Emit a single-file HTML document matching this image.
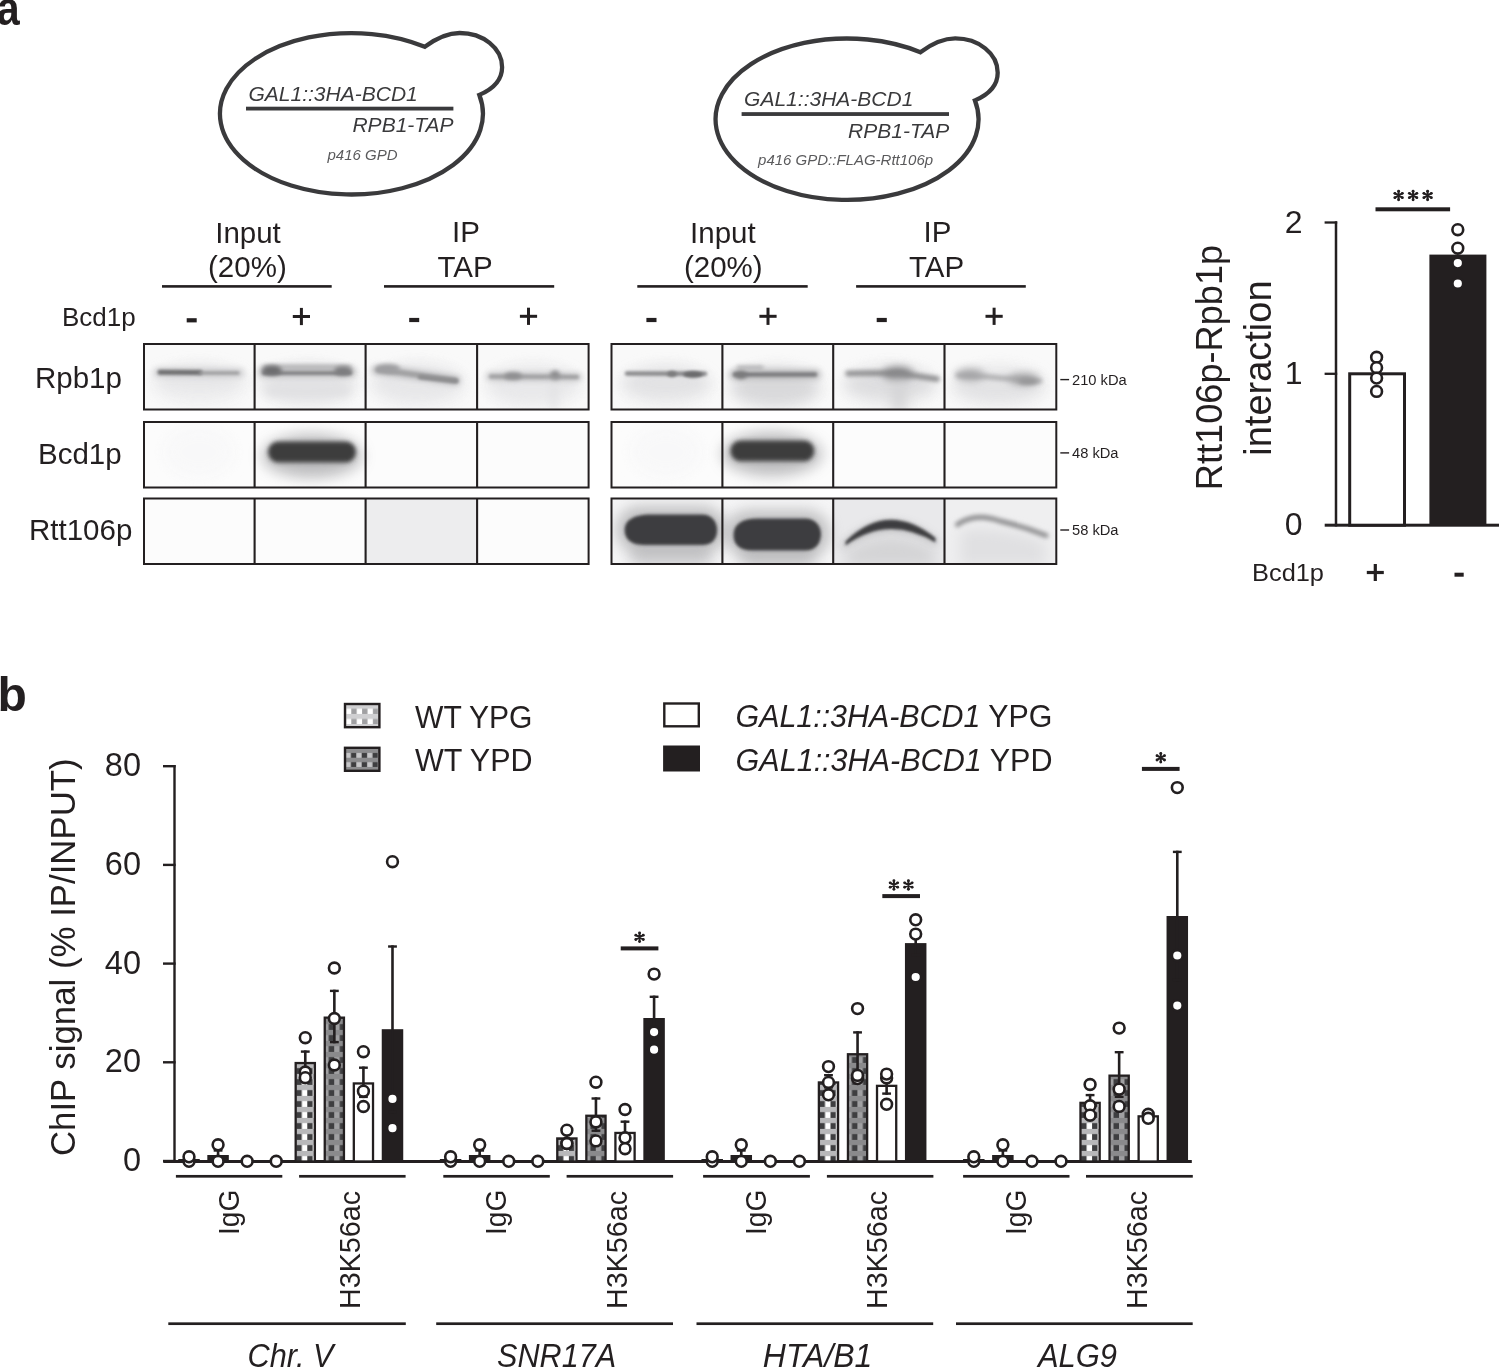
<!DOCTYPE html><html><head><meta charset="utf-8"><style>html,body{margin:0;padding:0;background:#fff;}svg{display:block;will-change:transform;} text{font-family:"Liberation Sans", sans-serif;}</style></head><body>
<svg width="1499" height="1372" viewBox="0 0 1499 1372">
<rect width="1499" height="1372" fill="#fff"/>
<text transform="translate(-3.3,24.6) scale(0.86,1)" x="0" y="0" font-size="48" font-weight="bold" fill="#231f20">a</text>
<g transform="translate(0,0)">
<path d="M 479.3 94.9 A 131.5 80.7 0 1 1 424.8 46.8 C 436 38.5 447 33 459.6 33 C 483 33 502.1 48 502.1 67.2 C 502.1 80 493 89 479.3 94.9 Z" fill="none" stroke="#3a3a3c" stroke-width="4.3" stroke-linejoin="miter"/>
<rect x="246" y="106.7" width="207.4" height="3.8" fill="#3a3a3c"/>
<text x="248.5" y="100.8" font-size="21" font-style="italic" fill="#3a3a3c">GAL1::3HA-BCD1</text>
<text x="453.6" y="132.2" font-size="21" font-style="italic" fill="#3a3a3c" text-anchor="end">RPB1-TAP</text>
<text x="362.5" y="159.8" font-size="15" font-style="italic" fill="#5a5a5c" text-anchor="middle">p416 GPD</text>
</g>
<g transform="translate(495.6,5.45)">
<path d="M 479.3 94.9 A 131.5 80.7 0 1 1 424.8 46.8 C 436 38.5 447 33 459.6 33 C 483 33 502.1 48 502.1 67.2 C 502.1 80 493 89 479.3 94.9 Z" fill="none" stroke="#3a3a3c" stroke-width="4.3" stroke-linejoin="miter"/>
<rect x="246" y="106.7" width="207.4" height="3.8" fill="#3a3a3c"/>
<text x="248.5" y="100.8" font-size="21" font-style="italic" fill="#3a3a3c">GAL1::3HA-BCD1</text>
<text x="453.6" y="132.2" font-size="21" font-style="italic" fill="#3a3a3c" text-anchor="end">RPB1-TAP</text>
<text x="350" y="159.8" font-size="15" font-style="italic" fill="#5a5a5c" text-anchor="middle">p416 GPD::FLAG-Rtt106p</text>
</g>
<text x="248.0" y="242.7" font-size="29.5" text-anchor="middle" font-weight="normal" font-style="normal" fill="#231f20" >Input</text>
<text x="247.4" y="277.4" font-size="29.5" text-anchor="middle" font-weight="normal" font-style="normal" fill="#231f20" >(20%)</text>
<rect x="162.00" y="285.10" width="169.70" height="2.60" fill="#231f20" />
<text x="466.0" y="242.3" font-size="29.5" text-anchor="middle" font-weight="normal" font-style="normal" fill="#231f20" >IP</text>
<text x="465.0" y="276.9" font-size="29.5" text-anchor="middle" font-weight="normal" font-style="normal" fill="#231f20" >TAP</text>
<rect x="384.00" y="285.10" width="170.20" height="2.60" fill="#231f20" />
<text x="722.9" y="242.8" font-size="29.5" text-anchor="middle" font-weight="normal" font-style="normal" fill="#231f20" >Input</text>
<text x="723.3" y="277.4" font-size="29.5" text-anchor="middle" font-weight="normal" font-style="normal" fill="#231f20" >(20%)</text>
<rect x="637.30" y="285.10" width="170.40" height="2.60" fill="#231f20" />
<text x="937.5" y="242.3" font-size="29.5" text-anchor="middle" font-weight="normal" font-style="normal" fill="#231f20" >IP</text>
<text x="936.5" y="276.9" font-size="29.5" text-anchor="middle" font-weight="normal" font-style="normal" fill="#231f20" >TAP</text>
<rect x="856.10" y="285.10" width="169.70" height="2.60" fill="#231f20" />
<text x="62.0" y="326.3" font-size="26" text-anchor="start" font-weight="normal" font-style="normal" fill="#231f20" >Bcd1p</text>
<rect x="186.70" y="318.20" width="10.00" height="4.20" fill="#231f20" />
<rect x="292.80" y="315.00" width="17.20" height="3.00" fill="#231f20" />
<rect x="299.90" y="307.90" width="3.00" height="17.20" fill="#231f20" />
<rect x="409.20" y="317.90" width="10.00" height="4.20" fill="#231f20" />
<rect x="519.90" y="314.80" width="17.20" height="3.00" fill="#231f20" />
<rect x="527.00" y="307.70" width="3.00" height="17.20" fill="#231f20" />
<rect x="646.40" y="317.90" width="10.10" height="4.20" fill="#231f20" />
<rect x="759.40" y="314.80" width="17.20" height="3.00" fill="#231f20" />
<rect x="766.50" y="307.70" width="3.00" height="17.20" fill="#231f20" />
<rect x="876.70" y="317.90" width="10.10" height="4.20" fill="#231f20" />
<rect x="985.50" y="314.80" width="17.20" height="3.00" fill="#231f20" />
<rect x="992.60" y="307.70" width="3.00" height="17.20" fill="#231f20" />
<text x="35.0" y="388.3" font-size="29.5" text-anchor="start" font-weight="normal" font-style="normal" fill="#231f20" >Rpb1p</text>
<text x="38.0" y="464.3" font-size="29.5" text-anchor="start" font-weight="normal" font-style="normal" fill="#231f20" >Bcd1p</text>
<text x="29.0" y="540.3" font-size="29.5" text-anchor="start" font-weight="normal" font-style="normal" fill="#231f20" >Rtt106p</text>
<rect x="1060.30" y="378.90" width="8.80" height="1.40" fill="#231f20" />
<text x="1072.0" y="384.8" font-size="14.7" text-anchor="start" font-weight="normal" font-style="normal" fill="#231f20" >210 kDa</text>
<rect x="1060.30" y="452.20" width="8.80" height="1.40" fill="#231f20" />
<text x="1072.0" y="458.1" font-size="14.7" text-anchor="start" font-weight="normal" font-style="normal" fill="#231f20" >48 kDa</text>
<rect x="1060.30" y="529.30" width="8.80" height="1.40" fill="#231f20" />
<text x="1072.0" y="535.2" font-size="14.7" text-anchor="start" font-weight="normal" font-style="normal" fill="#231f20" >58 kDa</text>
<defs><filter id="b1" filterUnits="userSpaceOnUse" x="0" y="0" width="1499" height="1372"><feGaussianBlur stdDeviation="2.2"/></filter><filter id="b2" filterUnits="userSpaceOnUse" x="0" y="0" width="1499" height="1372"><feGaussianBlur stdDeviation="4"/></filter><filter id="b3" filterUnits="userSpaceOnUse" x="0" y="0" width="1499" height="1372"><feGaussianBlur stdDeviation="7"/></filter><filter id="b15" filterUnits="userSpaceOnUse" x="0" y="0" width="1499" height="1372"><feGaussianBlur stdDeviation="3"/></filter><filter id="b1s" filterUnits="userSpaceOnUse" x="0" y="0" width="1499" height="1372"><feGaussianBlur stdDeviation="1.4"/></filter></defs>
<clipPath id="c00"><rect x="144" y="344" width="444.6" height="65.5"/></clipPath>
<g clip-path="url(#c00)">
<rect x="144.00" y="344.00" width="444.60" height="65.50" fill="#f9f9f9" />
<ellipse cx="199.3" cy="386" rx="44" ry="22" fill="#eeeeef" filter="url(#b3)" opacity="0.6"/>
<ellipse cx="310.1" cy="386" rx="44" ry="22" fill="#eeeeef" filter="url(#b3)" opacity="0.6"/>
<ellipse cx="421.35" cy="386" rx="44" ry="22" fill="#eeeeef" filter="url(#b3)" opacity="0.6"/>
<ellipse cx="532.85" cy="386" rx="44" ry="22" fill="#eeeeef" filter="url(#b3)" opacity="0.6"/>
<ellipse cx="199" cy="380" rx="46" ry="14" fill="#e2e2e4" filter="url(#b3)" opacity="0.7"/>
<path d="M 158 372.5 L 200 372.8 L 240 373" stroke="#cacacc" stroke-width="8" fill="none" stroke-linecap="round" stroke-linejoin="round" opacity="1.0" filter="url(#b15)"/>
<path d="M 160 372.3 L 200 372.6" stroke="#6e6e70" stroke-width="5.0" fill="none" stroke-linecap="round" stroke-linejoin="round" opacity="1.0" filter="url(#b1s)"/>
<path d="M 200 373 L 238 373" stroke="#969698" stroke-width="3.0" fill="none" stroke-linecap="round" stroke-linejoin="round" opacity="1.0" filter="url(#b1s)"/>
<ellipse cx="307" cy="384" rx="48" ry="18" fill="#e0e0e2" filter="url(#b3)" opacity="0.8"/>
<path d="M 263 372 L 351 372" stroke="#c4c4c6" stroke-width="11" fill="none" stroke-linecap="round" stroke-linejoin="round" opacity="1.0" filter="url(#b15)"/>
<path d="M 264 373 L 350 373" stroke="#828284" stroke-width="4.0" fill="none" stroke-linecap="round" stroke-linejoin="round" opacity="1.0" filter="url(#b1s)"/>
<path d="M 264 367 L 350 367" stroke="#a4a4a6" stroke-width="3.0" fill="none" stroke-linecap="round" stroke-linejoin="round" opacity="1.0" filter="url(#b1)"/>
<path d="M 270 391 L 346 391" stroke="#e0e0e2" stroke-width="9" fill="none" stroke-linecap="round" stroke-linejoin="round" opacity="1.0" filter="url(#b2)"/>
<ellipse cx="272" cy="370.5" rx="10" ry="5" fill="#6c6c6e" filter="url(#b1)" opacity="1.0"/>
<ellipse cx="343" cy="371" rx="9" ry="4.5" fill="#7c7c7e" filter="url(#b1)" opacity="1.0"/>
<ellipse cx="416" cy="383" rx="46" ry="18" fill="#e2e2e4" filter="url(#b3)" opacity="0.7"/>
<path d="M 376 370 L 400 372.5 L 456 380.5" stroke="#b0b0b2" stroke-width="8" fill="none" stroke-linecap="round" stroke-linejoin="round" opacity="1.0" filter="url(#b15)"/>
<path d="M 378 370 L 400 372.5 L 456 380.5" stroke="#a0a0a2" stroke-width="4.5" fill="none" stroke-linecap="round" stroke-linejoin="round" opacity="1.0" filter="url(#b1s)"/>
<path d="M 420 377 L 456 381" stroke="#8c8c8e" stroke-width="4.5" fill="none" stroke-linecap="round" stroke-linejoin="round" opacity="1.0" filter="url(#b1s)"/>
<ellipse cx="388" cy="368.5" rx="12" ry="4.5" fill="#9e9ea0" filter="url(#b1)" opacity="1.0"/>
<ellipse cx="533" cy="385" rx="46" ry="18" fill="#e4e4e6" filter="url(#b3)" opacity="0.7"/>
<path d="M 490 376.5 L 578 377" stroke="#bebec0" stroke-width="7" fill="none" stroke-linecap="round" stroke-linejoin="round" opacity="1.0" filter="url(#b15)"/>
<path d="M 491 376.5 L 577 377" stroke="#a0a0a2" stroke-width="4" fill="none" stroke-linecap="round" stroke-linejoin="round" opacity="1.0" filter="url(#b1s)"/>
<ellipse cx="513" cy="376" rx="9" ry="3.8" fill="#8e8e90" filter="url(#b1)" opacity="1.0"/>
<ellipse cx="555" cy="375.5" rx="5" ry="5" fill="#8a8a8c" filter="url(#b1)" opacity="1.0"/>
<path d="M 554 382 L 554 408" stroke="#e0e0e2" stroke-width="5" fill="none" stroke-linecap="round" stroke-linejoin="round" opacity="1.0" filter="url(#b2)"/>
</g>
<rect x="144" y="344" width="444.6" height="65.5" fill="none" stroke="#231f20" stroke-width="2"/>
<rect x="253.55" y="344.00" width="2.10" height="65.50" fill="#231f20" />
<rect x="364.55" y="344.00" width="2.10" height="65.50" fill="#231f20" />
<rect x="476.05" y="344.00" width="2.10" height="65.50" fill="#231f20" />
<clipPath id="c01"><rect x="144" y="422" width="444.6" height="65.5"/></clipPath>
<g clip-path="url(#c01)">
<rect x="144.00" y="422.00" width="444.60" height="65.50" fill="#fcfcfc" />
<ellipse cx="199" cy="452" rx="36" ry="26" fill="#f6f6f7" filter="url(#b3)" opacity="0.6"/>
<ellipse cx="312" cy="456" rx="50" ry="22" fill="#a8a8aa" filter="url(#b3)" opacity="0.75"/>
<rect x="268" y="441.5" width="88" height="21.0" rx="10.5" fill="#3c3c3e" opacity="1.0" filter="url(#b1)"/>
</g>
<rect x="144" y="422" width="444.6" height="65.5" fill="none" stroke="#231f20" stroke-width="2"/>
<rect x="253.55" y="422.00" width="2.10" height="65.50" fill="#231f20" />
<rect x="364.55" y="422.00" width="2.10" height="65.50" fill="#231f20" />
<rect x="476.05" y="422.00" width="2.10" height="65.50" fill="#231f20" />
<clipPath id="c02"><rect x="144" y="498.5" width="444.6" height="65.5"/></clipPath>
<g clip-path="url(#c02)">
<rect x="144.00" y="498.50" width="444.60" height="65.50" fill="#fcfcfc" />
<rect x="365.60" y="498.50" width="111.50" height="65.50" fill="#ededee" />
</g>
<rect x="144" y="498.5" width="444.6" height="65.5" fill="none" stroke="#231f20" stroke-width="2"/>
<rect x="253.55" y="498.50" width="2.10" height="65.50" fill="#231f20" />
<rect x="364.55" y="498.50" width="2.10" height="65.50" fill="#231f20" />
<rect x="476.05" y="498.50" width="2.10" height="65.50" fill="#231f20" />
<clipPath id="c10"><rect x="611.5" y="344" width="444.79999999999995" height="65.5"/></clipPath>
<g clip-path="url(#c10)">
<rect x="611.50" y="344.00" width="444.80" height="65.50" fill="#f9f9f9" />
<ellipse cx="666.95" cy="386" rx="44" ry="22" fill="#eeeeef" filter="url(#b3)" opacity="0.6"/>
<ellipse cx="777.8" cy="386" rx="44" ry="22" fill="#eeeeef" filter="url(#b3)" opacity="0.6"/>
<ellipse cx="888.85" cy="386" rx="44" ry="22" fill="#eeeeef" filter="url(#b3)" opacity="0.6"/>
<ellipse cx="1000.4" cy="386" rx="44" ry="22" fill="#eeeeef" filter="url(#b3)" opacity="0.6"/>
<ellipse cx="666" cy="383" rx="44" ry="16" fill="#dedee0" filter="url(#b3)" opacity="0.8"/>
<path d="M 627 373.5 L 705 373.8" stroke="#8a8a8c" stroke-width="4.5" fill="none" stroke-linecap="round" stroke-linejoin="round" opacity="1.0" filter="url(#b1s)"/>
<ellipse cx="693" cy="374.5" rx="10" ry="3.2" fill="#6a6a6c" filter="url(#b1s)" opacity="1.0"/>
<ellipse cx="672" cy="374" rx="5" ry="3" fill="#7a7a7c" filter="url(#b1s)" opacity="1.0"/>
<ellipse cx="775" cy="388" rx="44" ry="18" fill="#d6d6d8" filter="url(#b3)" opacity="0.9"/>
<path d="M 734 374.5 L 816 374.5" stroke="#bcbcbe" stroke-width="10" fill="none" stroke-linecap="round" stroke-linejoin="round" opacity="1.0" filter="url(#b15)"/>
<path d="M 735 374.5 L 815 374.5" stroke="#7c7c7e" stroke-width="4.5" fill="none" stroke-linecap="round" stroke-linejoin="round" opacity="1.0" filter="url(#b1s)"/>
<path d="M 738 367.5 L 762 367.5" stroke="#a8a8aa" stroke-width="3.5" fill="none" stroke-linecap="round" stroke-linejoin="round" opacity="1.0" filter="url(#b1)"/>
<ellipse cx="741" cy="375" rx="6" ry="4" fill="#7a7a7c" filter="url(#b1)" opacity="1.0"/>
<ellipse cx="890" cy="384" rx="46" ry="16" fill="#d8d8da" filter="url(#b3)" opacity="0.8"/>
<path d="M 848 373.5 L 875 373 L 900 373.5 L 937 379" stroke="#8e8e90" stroke-width="5.5" fill="none" stroke-linecap="round" stroke-linejoin="round" opacity="1.0" filter="url(#b1)"/>
<ellipse cx="898" cy="373.5" rx="15" ry="6.5" fill="#808082" filter="url(#b2)" opacity="1.0"/>
<path d="M 899 386 L 899 410" stroke="#d0d0d2" stroke-width="12" fill="none" stroke-linecap="round" stroke-linejoin="round" opacity="1.0" filter="url(#b3)"/>
<ellipse cx="998" cy="386" rx="46" ry="16" fill="#dedee0" filter="url(#b3)" opacity="0.8"/>
<path d="M 958 375.5 L 985 376.5 L 1000 378 L 1040 381" stroke="#aaaaac" stroke-width="4.5" fill="none" stroke-linecap="round" stroke-linejoin="round" opacity="1.0" filter="url(#b1)"/>
<ellipse cx="970" cy="374.5" rx="14" ry="5.5" fill="#a2a2a4" filter="url(#b2)" opacity="1.0"/>
<ellipse cx="1024" cy="379" rx="15" ry="5.5" fill="#a0a0a2" filter="url(#b2)" opacity="1.0"/>
<ellipse cx="1028" cy="381.5" rx="10" ry="3" fill="#959597" filter="url(#b1)" opacity="1.0"/>
</g>
<rect x="611.5" y="344" width="444.8" height="65.5" fill="none" stroke="#231f20" stroke-width="2"/>
<rect x="721.35" y="344.00" width="2.10" height="65.50" fill="#231f20" />
<rect x="832.15" y="344.00" width="2.10" height="65.50" fill="#231f20" />
<rect x="943.45" y="344.00" width="2.10" height="65.50" fill="#231f20" />
<clipPath id="c11"><rect x="611.5" y="422" width="444.79999999999995" height="65.5"/></clipPath>
<g clip-path="url(#c11)">
<rect x="611.50" y="422.00" width="444.80" height="65.50" fill="#fcfcfc" />
<ellipse cx="666" cy="452" rx="36" ry="26" fill="#f6f6f7" filter="url(#b3)" opacity="0.6"/>
<ellipse cx="772" cy="454" rx="50" ry="22" fill="#a8a8aa" filter="url(#b3)" opacity="0.75"/>
<rect x="730.4" y="440.6" width="83.89999999999998" height="20.599999999999966" rx="10.299999999999983" fill="#3c3c3e" opacity="1.0" filter="url(#b1)"/>
</g>
<rect x="611.5" y="422" width="444.8" height="65.5" fill="none" stroke="#231f20" stroke-width="2"/>
<rect x="721.35" y="422.00" width="2.10" height="65.50" fill="#231f20" />
<rect x="832.15" y="422.00" width="2.10" height="65.50" fill="#231f20" />
<rect x="943.45" y="422.00" width="2.10" height="65.50" fill="#231f20" />
<clipPath id="c12"><rect x="611.5" y="498.5" width="444.79999999999995" height="65.5"/></clipPath>
<g clip-path="url(#c12)">
<rect x="611.50" y="498.50" width="444.80" height="65.50" fill="#fcfcfc" />
<rect x="611.50" y="498.50" width="221.70" height="65.50" fill="#f5f5f6" />
<rect x="833.20" y="498.50" width="111.30" height="65.50" fill="#e9e9eb" />
<rect x="944.50" y="498.50" width="111.80" height="65.50" fill="#efeff0" />
<path d="M 640 556 L 702 556" stroke="#cfcfd1" stroke-width="22" fill="none" stroke-linecap="round" stroke-linejoin="round" opacity="1.0" filter="url(#b3)"/>
<path d="M 750 558 L 806 558" stroke="#cfcfd1" stroke-width="20" fill="none" stroke-linecap="round" stroke-linejoin="round" opacity="1.0" filter="url(#b3)"/>
<rect x="616" y="506" width="110" height="47" rx="23.5" fill="#a4a4a6" opacity="0.65" filter="url(#b3)"/>
<rect x="725" y="510" width="105" height="48" rx="24.0" fill="#a4a4a6" opacity="0.65" filter="url(#b3)"/>
<path d="M 624.6 530 C 624.6 519 636 514.5 650 514.5 L 702 514.5 C 712 514.5 717.1 522 717.1 530 C 717.1 539 712 545.1 702 545.1 L 645 545.1 C 632 545.1 624.6 540 624.6 530 Z" fill="#3e3e40" filter="url(#b1s)"/>
<path d="M 733.5 535 C 733.5 524 742 518.5 758 518.5 L 805 518.5 C 815 518.5 821 526 821 534 C 821 544 815 550.6 805 550.6 L 752 550.6 C 740 550.6 733.5 545 733.5 535 Z" fill="#3e3e40" filter="url(#b1s)"/>
<path d="M 846 552 Q 888 522 935 550 L 935 566 L 846 566 Z" fill="#d4d4d6" filter="url(#b3)"/>
<path d="M 842 544 Q 888 500 938 541 L 938 546 Q 888 514 842 550 Z" fill="#a6a6a8" opacity="0.7" filter="url(#b2)"/>
<path d="M 845.5 541.5 Q 888 500 935.5 538 L 935.5 542.5 Q 888 514 845.5 545.5 Z" fill="#3e3e40" filter="url(#b1s)"/>
<path d="M 960 530 Q 1000 524 1046 542 L 1046 566 L 960 566 Z" fill="#e0e0e2" filter="url(#b3)"/>
<path d="M 957.5 524.5 Q 975 512 1000 521 Q 1025 527 1046 535.5" stroke="#8e8e90" stroke-width="5" fill="none" stroke-linecap="round" filter="url(#b1)"/>
</g>
<rect x="611.5" y="498.5" width="444.8" height="65.5" fill="none" stroke="#231f20" stroke-width="2"/>
<rect x="721.35" y="498.50" width="2.10" height="65.50" fill="#231f20" />
<rect x="832.15" y="498.50" width="2.10" height="65.50" fill="#231f20" />
<rect x="943.45" y="498.50" width="2.10" height="65.50" fill="#231f20" />
<rect x="1334.75" y="221.30" width="2.50" height="305.20" fill="#231f20" />
<rect x="1324.60" y="221.35" width="12.60" height="2.30" fill="#231f20" />
<rect x="1324.60" y="372.65" width="12.60" height="2.30" fill="#231f20" />
<rect x="1324.70" y="523.70" width="174.30" height="3.00" fill="#231f20" />
<text x="1302.5" y="232.5" font-size="32" text-anchor="end" font-weight="normal" font-style="normal" fill="#231f20" >2</text>
<text x="1302.5" y="383.8" font-size="32" text-anchor="end" font-weight="normal" font-style="normal" fill="#231f20" >1</text>
<text x="1302.5" y="535.2" font-size="32" text-anchor="end" font-weight="normal" font-style="normal" fill="#231f20" >0</text>
<rect x="1349.7" y="373.8" width="54.8" height="151.4" fill="#fff" stroke="#231f20" stroke-width="3"/>
<rect x="1429.40" y="254.60" width="57.00" height="270.60" fill="#231f20" />
<circle cx="1376.60" cy="357.30" r="5.4" fill="#fff" stroke="#231f20" stroke-width="2.6"/>
<circle cx="1376.60" cy="367.70" r="5.4" fill="#fff" stroke="#231f20" stroke-width="2.6"/>
<circle cx="1376.60" cy="378.10" r="5.4" fill="#fff" stroke="#231f20" stroke-width="2.6"/>
<circle cx="1376.60" cy="391.40" r="5.4" fill="#fff" stroke="#231f20" stroke-width="2.6"/>
<circle cx="1457.80" cy="229.70" r="5.4" fill="#fff" stroke="#231f20" stroke-width="2.6"/>
<circle cx="1457.80" cy="248.20" r="5.4" fill="#fff" stroke="#231f20" stroke-width="2.6"/>
<circle cx="1457.80" cy="263.10" r="5.4" fill="#fff" stroke="#231f20" stroke-width="2.6"/>
<circle cx="1457.80" cy="283.50" r="5.4" fill="#fff" stroke="#231f20" stroke-width="2.6"/>
<rect x="1375.50" y="207.30" width="74.60" height="4.00" fill="#231f20" />
<path d="M 1398.60 191.20 L 1398.60 199.80 M 1394.88 193.35 L 1402.32 197.65 M 1402.32 193.35 L 1394.88 197.65 " stroke="#231f20" stroke-width="2.0" stroke-linecap="round" fill="none"/>
<circle cx="1398.60" cy="199.80" r="1.45" fill="#231f20"/>
<circle cx="1402.32" cy="197.65" r="1.45" fill="#231f20"/>
<circle cx="1394.88" cy="197.65" r="1.45" fill="#231f20"/>
<circle cx="1398.60" cy="191.20" r="1.45" fill="#231f20"/>
<circle cx="1394.88" cy="193.35" r="1.45" fill="#231f20"/>
<circle cx="1402.32" cy="193.35" r="1.45" fill="#231f20"/>
<path d="M 1413.10 191.20 L 1413.10 199.80 M 1409.38 193.35 L 1416.82 197.65 M 1416.82 193.35 L 1409.38 197.65 " stroke="#231f20" stroke-width="2.0" stroke-linecap="round" fill="none"/>
<circle cx="1413.10" cy="199.80" r="1.45" fill="#231f20"/>
<circle cx="1416.82" cy="197.65" r="1.45" fill="#231f20"/>
<circle cx="1409.38" cy="197.65" r="1.45" fill="#231f20"/>
<circle cx="1413.10" cy="191.20" r="1.45" fill="#231f20"/>
<circle cx="1409.38" cy="193.35" r="1.45" fill="#231f20"/>
<circle cx="1416.82" cy="193.35" r="1.45" fill="#231f20"/>
<path d="M 1427.60 191.20 L 1427.60 199.80 M 1423.88 193.35 L 1431.32 197.65 M 1431.32 193.35 L 1423.88 197.65 " stroke="#231f20" stroke-width="2.0" stroke-linecap="round" fill="none"/>
<circle cx="1427.60" cy="199.80" r="1.45" fill="#231f20"/>
<circle cx="1431.32" cy="197.65" r="1.45" fill="#231f20"/>
<circle cx="1423.88" cy="197.65" r="1.45" fill="#231f20"/>
<circle cx="1427.60" cy="191.20" r="1.45" fill="#231f20"/>
<circle cx="1423.88" cy="193.35" r="1.45" fill="#231f20"/>
<circle cx="1431.32" cy="193.35" r="1.45" fill="#231f20"/>
<text x="1252.0" y="581.1" font-size="23.5" text-anchor="start" font-weight="normal" font-style="normal" fill="#231f20" textLength="72" lengthAdjust="spacingAndGlyphs">Bcd1p</text>
<rect x="1366.80" y="570.90" width="17.00" height="3.20" fill="#231f20" />
<rect x="1373.70" y="564.00" width="3.20" height="17.00" fill="#231f20" />
<rect x="1454.50" y="572.70" width="9.20" height="4.00" fill="#231f20" />
<text transform="translate(1222.3,367.5) rotate(-90)" x="0" y="0" font-size="36.2" text-anchor="middle" fill="#231f20">Rtt106p-Rpb1p</text>
<text transform="translate(1270.9,368.1) rotate(-90)" x="0" y="0" font-size="38" text-anchor="middle" fill="#231f20">interaction</text>
<text x="-2.5" y="711.3" font-size="48" text-anchor="start" font-weight="bold" font-style="normal" fill="#231f20" >b</text>
<rect x="173.30" y="765.00" width="2.40" height="398.00" fill="#231f20" />
<rect x="163.00" y="1159.80" width="12.60" height="2.40" fill="#231f20" />
<text x="141.0" y="1171.0" font-size="32.5" text-anchor="end" font-weight="normal" font-style="normal" fill="#231f20" >0</text>
<rect x="163.00" y="1061.10" width="12.60" height="2.40" fill="#231f20" />
<text x="141.0" y="1072.3" font-size="32.5" text-anchor="end" font-weight="normal" font-style="normal" fill="#231f20" >20</text>
<rect x="163.00" y="962.40" width="12.60" height="2.40" fill="#231f20" />
<text x="141.0" y="973.6" font-size="32.5" text-anchor="end" font-weight="normal" font-style="normal" fill="#231f20" >40</text>
<rect x="163.00" y="863.70" width="12.60" height="2.40" fill="#231f20" />
<text x="141.0" y="874.9" font-size="32.5" text-anchor="end" font-weight="normal" font-style="normal" fill="#231f20" >60</text>
<rect x="163.00" y="765.00" width="12.60" height="2.40" fill="#231f20" />
<text x="141.0" y="776.2" font-size="32.5" text-anchor="end" font-weight="normal" font-style="normal" fill="#231f20" >80</text>
<rect x="163.30" y="1160.00" width="1028.50" height="3.00" fill="#231f20" />
<text transform="translate(74.5,957.2) rotate(-90)" x="0" y="0" font-size="34.8" text-anchor="middle" fill="#231f20">ChIP signal (% IP/INPUT)</text>
<defs><pattern id="pl" patternUnits="userSpaceOnUse" width="10.8" height="10.2" x="346.3" y="703.7"><rect width="10.8" height="10.2" fill="#fff"/><rect x="5.0" y="0" width="5.4" height="10.2" fill="#a0a0a2"/><rect x="0" y="0" width="10.8" height="5.1" fill="#d0d0d2"/></pattern><pattern id="pd" patternUnits="userSpaceOnUse" width="10.8" height="9.2" x="346.3" y="748.5"><rect width="10.8" height="9.2" fill="#c6c6c8"/><rect x="4.6" y="0" width="5.4" height="9.2" fill="#3e3e40"/><rect x="0" y="0" width="10.8" height="4.5" fill="#8c8c8e"/></pattern></defs>
<rect x="345.0" y="704.0" width="34.4" height="23.2" fill="url(#pl)" stroke="#231f20" stroke-width="2.4"/>
<rect x="345.0" y="747.8" width="34.4" height="23.0" fill="url(#pd)" stroke="#231f20" stroke-width="2.4"/>
<rect x="664.3" y="703.5" width="34.5" height="22.8" fill="#fff" stroke="#231f20" stroke-width="2.4"/>
<rect x="663.10" y="745.50" width="36.90" height="26.00" fill="#231f20" />
<text x="415.0" y="727.6" font-size="31.7" text-anchor="start" font-weight="normal" font-style="normal" fill="#231f20" textLength="117.5" lengthAdjust="spacingAndGlyphs">WT YPG</text>
<text x="415.0" y="771.3" font-size="31.7" text-anchor="start" font-weight="normal" font-style="normal" fill="#231f20" textLength="117.5" lengthAdjust="spacingAndGlyphs">WT YPD</text>
<text x="735.5" y="726.9" font-size="31.7" fill="#231f20" textLength="317" lengthAdjust="spacingAndGlyphs"><tspan font-style="italic">GAL1::3HA-BCD1</tspan> YPG</text>
<text x="735.5" y="770.7" font-size="31.7" fill="#231f20" textLength="317" lengthAdjust="spacingAndGlyphs"><tspan font-style="italic">GAL1::3HA-BCD1</tspan> YPD</text>
<defs>
</defs>
<rect x="178.25" y="1159.00" width="21.50" height="2.50" fill="#231f20" />
<rect x="207.32" y="1155.00" width="21.50" height="6.50" fill="#231f20" />
<rect x="216.77" y="1150.00" width="2.60" height="5.50" fill="#231f20" />
<rect x="213.67" y="1149.30" width="8.80" height="2.40" fill="#231f20" />
<circle cx="189.00" cy="1161.30" r="5.4" fill="#fff" stroke="#231f20" stroke-width="2.6"/>
<circle cx="189.00" cy="1156.80" r="5.4" fill="#fff" stroke="#231f20" stroke-width="2.6"/>
<circle cx="218.07" cy="1144.80" r="5.4" fill="#fff" stroke="#231f20" stroke-width="2.6"/>
<circle cx="218.07" cy="1161.30" r="5.4" fill="#fff" stroke="#231f20" stroke-width="2.6"/>
<circle cx="247.14" cy="1161.30" r="5.4" fill="#fff" stroke="#231f20" stroke-width="2.6"/>
<circle cx="276.21" cy="1161.30" r="5.4" fill="#fff" stroke="#231f20" stroke-width="2.6"/>
<defs><pattern id="pb00" patternUnits="userSpaceOnUse" width="11" height="11" x="296.28" y="1150.9"><rect width="11" height="11" fill="#3e3e40"/><rect x="5.5" width="5.5" height="11" fill="#ffffff"/><rect y="0" width="11" height="5.2" fill="#b8b8ba"/></pattern></defs>
<rect x="295.68" y="1063.05" width="19.20" height="98.45" fill="url(#pb00)" stroke="#231f20" stroke-width="2.3"/>
<rect x="303.98" y="1050.40" width="2.60" height="23.00" fill="#231f20" />
<rect x="300.88" y="1050.40" width="8.80" height="2.40" fill="#231f20" />
<rect x="300.88" y="1071.00" width="8.80" height="2.40" fill="#231f20" />
<circle cx="305.28" cy="1037.70" r="5.4" fill="#fff" stroke="#231f20" stroke-width="2.6"/>
<circle cx="305.28" cy="1072.00" r="5.4" fill="#fff" stroke="#231f20" stroke-width="2.6"/>
<circle cx="305.28" cy="1077.70" r="5.4" fill="#fff" stroke="#231f20" stroke-width="2.6"/>
<defs><pattern id="pb01" patternUnits="userSpaceOnUse" width="11" height="11" x="323.20" y="1150.9"><rect width="11" height="11" fill="#a0a0a2"/><rect x="5.5" width="5.5" height="11" fill="#3e3e40"/><rect y="0" width="11" height="5.2" fill="#8a8a8c"/></pattern></defs>
<rect x="324.75" y="1017.65" width="19.20" height="143.85" fill="url(#pb01)" stroke="#231f20" stroke-width="2.3"/>
<rect x="333.05" y="989.70" width="2.60" height="53.60" fill="#231f20" />
<rect x="329.95" y="989.70" width="8.80" height="2.40" fill="#231f20" />
<rect x="329.95" y="1040.90" width="8.80" height="2.40" fill="#231f20" />
<circle cx="334.35" cy="968.00" r="5.4" fill="#fff" stroke="#231f20" stroke-width="2.6"/>
<circle cx="334.35" cy="1018.50" r="5.4" fill="#fff" stroke="#231f20" stroke-width="2.6"/>
<circle cx="334.35" cy="1065.00" r="5.4" fill="#fff" stroke="#231f20" stroke-width="2.6"/>
<rect x="353.82" y="1083.45" width="19.20" height="78.05" fill="#fff" stroke="#231f20" stroke-width="2.3"/>
<rect x="362.12" y="1066.50" width="2.60" height="31.60" fill="#231f20" />
<rect x="359.02" y="1066.50" width="8.80" height="2.40" fill="#231f20" />
<rect x="359.02" y="1095.70" width="8.80" height="2.40" fill="#231f20" />
<circle cx="363.42" cy="1051.70" r="5.4" fill="#fff" stroke="#231f20" stroke-width="2.6"/>
<circle cx="363.42" cy="1091.20" r="5.4" fill="#fff" stroke="#231f20" stroke-width="2.6"/>
<circle cx="363.42" cy="1106.50" r="5.4" fill="#fff" stroke="#231f20" stroke-width="2.6"/>
<rect x="381.74" y="1029.20" width="21.50" height="132.30" fill="#231f20" />
<rect x="391.19" y="945.30" width="2.60" height="167.80" fill="#231f20" />
<rect x="388.09" y="945.30" width="8.80" height="2.40" fill="#231f20" />
<rect x="388.09" y="1110.70" width="8.80" height="2.40" fill="#231f20" />
<circle cx="392.49" cy="861.70" r="5.4" fill="#fff" stroke="#231f20" stroke-width="2.6"/>
<circle cx="392.49" cy="1098.90" r="5.4" fill="#fff" stroke="#231f20" stroke-width="2.6"/>
<circle cx="392.49" cy="1128.20" r="5.4" fill="#fff" stroke="#231f20" stroke-width="2.6"/>
<rect x="175.90" y="1174.95" width="106.40" height="2.70" fill="#231f20" />
<rect x="299.10" y="1174.95" width="106.50" height="2.70" fill="#231f20" />
<rect x="168.30" y="1322.35" width="237.50" height="2.70" fill="#231f20" />
<text transform="translate(238.7,1189.6) rotate(-90)" x="0" y="0" font-size="30" text-anchor="end" fill="#231f20" textLength="45.5" lengthAdjust="spacingAndGlyphs">IgG</text>
<text transform="translate(359.6,1191.0) rotate(-90)" x="0" y="0" font-size="30" text-anchor="end" fill="#231f20" textLength="118" lengthAdjust="spacingAndGlyphs">H3K56ac</text>
<text x="290.5" y="1367.0" font-size="32.7" text-anchor="middle" font-style="italic" fill="#231f20" textLength="86.0" lengthAdjust="spacingAndGlyphs">Chr. V</text>
<rect x="439.85" y="1159.00" width="21.50" height="2.50" fill="#231f20" />
<rect x="468.92" y="1155.00" width="21.50" height="6.50" fill="#231f20" />
<rect x="478.37" y="1150.00" width="2.60" height="5.50" fill="#231f20" />
<rect x="475.27" y="1149.30" width="8.80" height="2.40" fill="#231f20" />
<circle cx="450.60" cy="1161.30" r="5.4" fill="#fff" stroke="#231f20" stroke-width="2.6"/>
<circle cx="450.60" cy="1156.80" r="5.4" fill="#fff" stroke="#231f20" stroke-width="2.6"/>
<circle cx="479.67" cy="1144.80" r="5.4" fill="#fff" stroke="#231f20" stroke-width="2.6"/>
<circle cx="479.67" cy="1161.30" r="5.4" fill="#fff" stroke="#231f20" stroke-width="2.6"/>
<circle cx="508.74" cy="1161.30" r="5.4" fill="#fff" stroke="#231f20" stroke-width="2.6"/>
<circle cx="537.81" cy="1161.30" r="5.4" fill="#fff" stroke="#231f20" stroke-width="2.6"/>
<defs><pattern id="pb10" patternUnits="userSpaceOnUse" width="11" height="11" x="557.88" y="1150.9"><rect width="11" height="11" fill="#3e3e40"/><rect x="5.5" width="5.5" height="11" fill="#ffffff"/><rect y="0" width="11" height="5.2" fill="#b8b8ba"/></pattern></defs>
<rect x="557.28" y="1138.45" width="19.20" height="23.05" fill="url(#pb10)" stroke="#231f20" stroke-width="2.3"/>
<rect x="565.58" y="1129.50" width="2.60" height="15.60" fill="#231f20" />
<rect x="562.48" y="1129.50" width="8.80" height="2.40" fill="#231f20" />
<rect x="562.48" y="1142.70" width="8.80" height="2.40" fill="#231f20" />
<circle cx="566.88" cy="1130.20" r="5.4" fill="#fff" stroke="#231f20" stroke-width="2.6"/>
<circle cx="566.88" cy="1143.50" r="5.4" fill="#fff" stroke="#231f20" stroke-width="2.6"/>
<circle cx="566.88" cy="1143.50" r="5.4" fill="#fff" stroke="#231f20" stroke-width="2.6"/>
<defs><pattern id="pb11" patternUnits="userSpaceOnUse" width="11" height="11" x="584.80" y="1150.9"><rect width="11" height="11" fill="#a0a0a2"/><rect x="5.5" width="5.5" height="11" fill="#3e3e40"/><rect y="0" width="11" height="5.2" fill="#8a8a8c"/></pattern></defs>
<rect x="586.35" y="1115.75" width="19.20" height="45.75" fill="url(#pb11)" stroke="#231f20" stroke-width="2.3"/>
<rect x="594.65" y="1097.30" width="2.60" height="34.60" fill="#231f20" />
<rect x="591.55" y="1097.30" width="8.80" height="2.40" fill="#231f20" />
<rect x="591.55" y="1129.50" width="8.80" height="2.40" fill="#231f20" />
<circle cx="595.95" cy="1082.20" r="5.4" fill="#fff" stroke="#231f20" stroke-width="2.6"/>
<circle cx="595.95" cy="1121.90" r="5.4" fill="#fff" stroke="#231f20" stroke-width="2.6"/>
<circle cx="595.95" cy="1140.90" r="5.4" fill="#fff" stroke="#231f20" stroke-width="2.6"/>
<rect x="615.42" y="1132.95" width="19.20" height="28.55" fill="#fff" stroke="#231f20" stroke-width="2.3"/>
<rect x="623.72" y="1120.50" width="2.60" height="22.60" fill="#231f20" />
<rect x="620.62" y="1120.50" width="8.80" height="2.40" fill="#231f20" />
<rect x="620.62" y="1140.70" width="8.80" height="2.40" fill="#231f20" />
<circle cx="625.02" cy="1109.50" r="5.4" fill="#fff" stroke="#231f20" stroke-width="2.6"/>
<circle cx="625.02" cy="1137.80" r="5.4" fill="#fff" stroke="#231f20" stroke-width="2.6"/>
<circle cx="625.02" cy="1148.70" r="5.4" fill="#fff" stroke="#231f20" stroke-width="2.6"/>
<rect x="643.34" y="1018.00" width="21.50" height="143.50" fill="#231f20" />
<rect x="652.79" y="995.60" width="2.60" height="44.80" fill="#231f20" />
<rect x="649.69" y="995.60" width="8.80" height="2.40" fill="#231f20" />
<rect x="649.69" y="1038.00" width="8.80" height="2.40" fill="#231f20" />
<circle cx="654.09" cy="974.10" r="5.4" fill="#fff" stroke="#231f20" stroke-width="2.6"/>
<circle cx="654.09" cy="1032.10" r="5.4" fill="#fff" stroke="#231f20" stroke-width="2.6"/>
<circle cx="654.09" cy="1049.70" r="5.4" fill="#fff" stroke="#231f20" stroke-width="2.6"/>
<rect x="620.72" y="946.40" width="37.67" height="4.00" fill="#231f20" />
<path d="M 639.56 933.00 L 639.56 941.60 M 635.83 935.15 L 643.28 939.45 M 643.28 935.15 L 635.83 939.45 " stroke="#231f20" stroke-width="2.0" stroke-linecap="round" fill="none"/>
<circle cx="639.56" cy="941.60" r="1.45" fill="#231f20"/>
<circle cx="643.28" cy="939.45" r="1.45" fill="#231f20"/>
<circle cx="635.83" cy="939.45" r="1.45" fill="#231f20"/>
<circle cx="639.56" cy="933.00" r="1.45" fill="#231f20"/>
<circle cx="635.83" cy="935.15" r="1.45" fill="#231f20"/>
<circle cx="643.28" cy="935.15" r="1.45" fill="#231f20"/>
<rect x="443.30" y="1174.95" width="106.50" height="2.70" fill="#231f20" />
<rect x="566.60" y="1174.95" width="106.50" height="2.70" fill="#231f20" />
<rect x="436.20" y="1322.35" width="236.80" height="2.70" fill="#231f20" />
<text transform="translate(506.1,1189.6) rotate(-90)" x="0" y="0" font-size="30" text-anchor="end" fill="#231f20" textLength="45.5" lengthAdjust="spacingAndGlyphs">IgG</text>
<text transform="translate(627.1,1191.0) rotate(-90)" x="0" y="0" font-size="30" text-anchor="end" fill="#231f20" textLength="118" lengthAdjust="spacingAndGlyphs">H3K56ac</text>
<text x="556.6" y="1367.0" font-size="32.7" text-anchor="middle" font-style="italic" fill="#231f20" textLength="119.0" lengthAdjust="spacingAndGlyphs">SNR17A</text>
<rect x="701.45" y="1159.00" width="21.50" height="2.50" fill="#231f20" />
<rect x="730.52" y="1155.00" width="21.50" height="6.50" fill="#231f20" />
<rect x="739.97" y="1150.00" width="2.60" height="5.50" fill="#231f20" />
<rect x="736.87" y="1149.30" width="8.80" height="2.40" fill="#231f20" />
<circle cx="712.20" cy="1161.30" r="5.4" fill="#fff" stroke="#231f20" stroke-width="2.6"/>
<circle cx="712.20" cy="1156.80" r="5.4" fill="#fff" stroke="#231f20" stroke-width="2.6"/>
<circle cx="741.27" cy="1144.80" r="5.4" fill="#fff" stroke="#231f20" stroke-width="2.6"/>
<circle cx="741.27" cy="1161.30" r="5.4" fill="#fff" stroke="#231f20" stroke-width="2.6"/>
<circle cx="770.34" cy="1161.30" r="5.4" fill="#fff" stroke="#231f20" stroke-width="2.6"/>
<circle cx="799.41" cy="1161.30" r="5.4" fill="#fff" stroke="#231f20" stroke-width="2.6"/>
<defs><pattern id="pb20" patternUnits="userSpaceOnUse" width="11" height="11" x="819.48" y="1150.9"><rect width="11" height="11" fill="#3e3e40"/><rect x="5.5" width="5.5" height="11" fill="#ffffff"/><rect y="0" width="11" height="5.2" fill="#b8b8ba"/></pattern></defs>
<rect x="818.88" y="1082.45" width="19.20" height="79.05" fill="url(#pb20)" stroke="#231f20" stroke-width="2.3"/>
<rect x="827.18" y="1074.00" width="2.60" height="14.60" fill="#231f20" />
<rect x="824.08" y="1074.00" width="8.80" height="2.40" fill="#231f20" />
<rect x="824.08" y="1086.20" width="8.80" height="2.40" fill="#231f20" />
<circle cx="828.48" cy="1066.60" r="5.4" fill="#fff" stroke="#231f20" stroke-width="2.6"/>
<circle cx="828.48" cy="1082.40" r="5.4" fill="#fff" stroke="#231f20" stroke-width="2.6"/>
<circle cx="828.48" cy="1094.80" r="5.4" fill="#fff" stroke="#231f20" stroke-width="2.6"/>
<defs><pattern id="pb21" patternUnits="userSpaceOnUse" width="11" height="11" x="846.40" y="1150.9"><rect width="11" height="11" fill="#a0a0a2"/><rect x="5.5" width="5.5" height="11" fill="#3e3e40"/><rect y="0" width="11" height="5.2" fill="#8a8a8c"/></pattern></defs>
<rect x="847.95" y="1054.25" width="19.20" height="107.25" fill="url(#pb21)" stroke="#231f20" stroke-width="2.3"/>
<rect x="856.25" y="1031.20" width="2.60" height="43.80" fill="#231f20" />
<rect x="853.15" y="1031.20" width="8.80" height="2.40" fill="#231f20" />
<rect x="853.15" y="1072.60" width="8.80" height="2.40" fill="#231f20" />
<circle cx="857.55" cy="1008.60" r="5.4" fill="#fff" stroke="#231f20" stroke-width="2.6"/>
<circle cx="857.55" cy="1078.60" r="5.4" fill="#fff" stroke="#231f20" stroke-width="2.6"/>
<circle cx="857.55" cy="1075.40" r="5.4" fill="#fff" stroke="#231f20" stroke-width="2.6"/>
<rect x="877.02" y="1085.85" width="19.20" height="75.65" fill="#fff" stroke="#231f20" stroke-width="2.3"/>
<rect x="885.32" y="1074.60" width="2.60" height="20.20" fill="#231f20" />
<rect x="882.22" y="1074.60" width="8.80" height="2.40" fill="#231f20" />
<rect x="882.22" y="1092.40" width="8.80" height="2.40" fill="#231f20" />
<circle cx="886.62" cy="1077.90" r="5.4" fill="#fff" stroke="#231f20" stroke-width="2.6"/>
<circle cx="886.62" cy="1074.10" r="5.4" fill="#fff" stroke="#231f20" stroke-width="2.6"/>
<circle cx="886.62" cy="1104.30" r="5.4" fill="#fff" stroke="#231f20" stroke-width="2.6"/>
<rect x="904.94" y="943.10" width="21.50" height="218.40" fill="#231f20" />
<rect x="914.39" y="930.00" width="2.60" height="26.20" fill="#231f20" />
<rect x="911.29" y="930.00" width="8.80" height="2.40" fill="#231f20" />
<rect x="911.29" y="953.80" width="8.80" height="2.40" fill="#231f20" />
<circle cx="915.69" cy="919.80" r="5.4" fill="#fff" stroke="#231f20" stroke-width="2.6"/>
<circle cx="915.69" cy="934.10" r="5.4" fill="#fff" stroke="#231f20" stroke-width="2.6"/>
<circle cx="915.69" cy="977.00" r="5.4" fill="#fff" stroke="#231f20" stroke-width="2.6"/>
<rect x="882.32" y="894.10" width="37.67" height="4.00" fill="#231f20" />
<path d="M 893.91 880.70 L 893.91 889.30 M 890.18 882.85 L 897.63 887.15 M 897.63 882.85 L 890.18 887.15 " stroke="#231f20" stroke-width="2.0" stroke-linecap="round" fill="none"/>
<circle cx="893.91" cy="889.30" r="1.45" fill="#231f20"/>
<circle cx="897.63" cy="887.15" r="1.45" fill="#231f20"/>
<circle cx="890.18" cy="887.15" r="1.45" fill="#231f20"/>
<circle cx="893.91" cy="880.70" r="1.45" fill="#231f20"/>
<circle cx="890.18" cy="882.85" r="1.45" fill="#231f20"/>
<circle cx="897.63" cy="882.85" r="1.45" fill="#231f20"/>
<path d="M 908.41 880.70 L 908.41 889.30 M 904.68 882.85 L 912.13 887.15 M 912.13 882.85 L 904.68 887.15 " stroke="#231f20" stroke-width="2.0" stroke-linecap="round" fill="none"/>
<circle cx="908.41" cy="889.30" r="1.45" fill="#231f20"/>
<circle cx="912.13" cy="887.15" r="1.45" fill="#231f20"/>
<circle cx="904.68" cy="887.15" r="1.45" fill="#231f20"/>
<circle cx="908.41" cy="880.70" r="1.45" fill="#231f20"/>
<circle cx="904.68" cy="882.85" r="1.45" fill="#231f20"/>
<circle cx="912.13" cy="882.85" r="1.45" fill="#231f20"/>
<rect x="703.10" y="1174.95" width="106.80" height="2.70" fill="#231f20" />
<rect x="826.90" y="1174.95" width="106.50" height="2.70" fill="#231f20" />
<rect x="696.50" y="1322.35" width="236.70" height="2.70" fill="#231f20" />
<text transform="translate(766.1,1189.6) rotate(-90)" x="0" y="0" font-size="30" text-anchor="end" fill="#231f20" textLength="45.5" lengthAdjust="spacingAndGlyphs">IgG</text>
<text transform="translate(887.4,1191.0) rotate(-90)" x="0" y="0" font-size="30" text-anchor="end" fill="#231f20" textLength="118" lengthAdjust="spacingAndGlyphs">H3K56ac</text>
<text x="817.6" y="1367.0" font-size="32.7" text-anchor="middle" font-style="italic" fill="#231f20" textLength="109.5" lengthAdjust="spacingAndGlyphs">HTA/B1</text>
<rect x="963.05" y="1159.00" width="21.50" height="2.50" fill="#231f20" />
<rect x="992.12" y="1155.00" width="21.50" height="6.50" fill="#231f20" />
<rect x="1001.57" y="1150.00" width="2.60" height="5.50" fill="#231f20" />
<rect x="998.47" y="1149.30" width="8.80" height="2.40" fill="#231f20" />
<circle cx="973.80" cy="1161.30" r="5.4" fill="#fff" stroke="#231f20" stroke-width="2.6"/>
<circle cx="973.80" cy="1156.80" r="5.4" fill="#fff" stroke="#231f20" stroke-width="2.6"/>
<circle cx="1002.87" cy="1144.80" r="5.4" fill="#fff" stroke="#231f20" stroke-width="2.6"/>
<circle cx="1002.87" cy="1161.30" r="5.4" fill="#fff" stroke="#231f20" stroke-width="2.6"/>
<circle cx="1031.94" cy="1161.30" r="5.4" fill="#fff" stroke="#231f20" stroke-width="2.6"/>
<circle cx="1061.01" cy="1161.30" r="5.4" fill="#fff" stroke="#231f20" stroke-width="2.6"/>
<defs><pattern id="pb30" patternUnits="userSpaceOnUse" width="11" height="11" x="1081.08" y="1150.9"><rect width="11" height="11" fill="#3e3e40"/><rect x="5.5" width="5.5" height="11" fill="#ffffff"/><rect y="0" width="11" height="5.2" fill="#b8b8ba"/></pattern></defs>
<rect x="1080.48" y="1102.85" width="19.20" height="58.65" fill="url(#pb30)" stroke="#231f20" stroke-width="2.3"/>
<rect x="1088.78" y="1093.90" width="2.60" height="15.60" fill="#231f20" />
<rect x="1085.68" y="1093.90" width="8.80" height="2.40" fill="#231f20" />
<rect x="1085.68" y="1107.10" width="8.80" height="2.40" fill="#231f20" />
<circle cx="1090.08" cy="1084.50" r="5.4" fill="#fff" stroke="#231f20" stroke-width="2.6"/>
<circle cx="1090.08" cy="1105.80" r="5.4" fill="#fff" stroke="#231f20" stroke-width="2.6"/>
<circle cx="1090.08" cy="1115.20" r="5.4" fill="#fff" stroke="#231f20" stroke-width="2.6"/>
<defs><pattern id="pb31" patternUnits="userSpaceOnUse" width="11" height="11" x="1108.00" y="1150.9"><rect width="11" height="11" fill="#a0a0a2"/><rect x="5.5" width="5.5" height="11" fill="#3e3e40"/><rect y="0" width="11" height="5.2" fill="#8a8a8c"/></pattern></defs>
<rect x="1109.55" y="1075.65" width="19.20" height="85.85" fill="url(#pb31)" stroke="#231f20" stroke-width="2.3"/>
<rect x="1117.85" y="1051.00" width="2.60" height="47.00" fill="#231f20" />
<rect x="1114.75" y="1051.00" width="8.80" height="2.40" fill="#231f20" />
<rect x="1114.75" y="1095.60" width="8.80" height="2.40" fill="#231f20" />
<circle cx="1119.15" cy="1028.10" r="5.4" fill="#fff" stroke="#231f20" stroke-width="2.6"/>
<circle cx="1119.15" cy="1089.20" r="5.4" fill="#fff" stroke="#231f20" stroke-width="2.6"/>
<circle cx="1119.15" cy="1106.40" r="5.4" fill="#fff" stroke="#231f20" stroke-width="2.6"/>
<rect x="1138.62" y="1116.35" width="19.20" height="45.15" fill="#fff" stroke="#231f20" stroke-width="2.3"/>
<rect x="1146.92" y="1113.00" width="2.60" height="4.40" fill="#231f20" />
<rect x="1143.82" y="1113.00" width="8.80" height="2.40" fill="#231f20" />
<rect x="1143.82" y="1115.00" width="8.80" height="2.40" fill="#231f20" />
<circle cx="1148.22" cy="1114.30" r="5.4" fill="#fff" stroke="#231f20" stroke-width="2.6"/>
<circle cx="1148.22" cy="1118.30" r="5.4" fill="#fff" stroke="#231f20" stroke-width="2.6"/>
<rect x="1166.54" y="916.00" width="21.50" height="245.50" fill="#231f20" />
<rect x="1175.99" y="850.70" width="2.60" height="130.60" fill="#231f20" />
<rect x="1172.89" y="850.70" width="8.80" height="2.40" fill="#231f20" />
<rect x="1172.89" y="978.90" width="8.80" height="2.40" fill="#231f20" />
<circle cx="1177.29" cy="787.60" r="5.4" fill="#fff" stroke="#231f20" stroke-width="2.6"/>
<circle cx="1177.29" cy="955.50" r="5.4" fill="#fff" stroke="#231f20" stroke-width="2.6"/>
<circle cx="1177.29" cy="1005.60" r="5.4" fill="#fff" stroke="#231f20" stroke-width="2.6"/>
<rect x="1141.92" y="766.90" width="37.67" height="4.00" fill="#231f20" />
<path d="M 1160.76 753.50 L 1160.76 762.10 M 1157.03 755.65 L 1164.48 759.95 M 1164.48 755.65 L 1157.03 759.95 " stroke="#231f20" stroke-width="2.0" stroke-linecap="round" fill="none"/>
<circle cx="1160.76" cy="762.10" r="1.45" fill="#231f20"/>
<circle cx="1164.48" cy="759.95" r="1.45" fill="#231f20"/>
<circle cx="1157.03" cy="759.95" r="1.45" fill="#231f20"/>
<circle cx="1160.76" cy="753.50" r="1.45" fill="#231f20"/>
<circle cx="1157.03" cy="755.65" r="1.45" fill="#231f20"/>
<circle cx="1164.48" cy="755.65" r="1.45" fill="#231f20"/>
<rect x="963.10" y="1174.95" width="106.40" height="2.70" fill="#231f20" />
<rect x="1086.00" y="1174.95" width="106.80" height="2.70" fill="#231f20" />
<rect x="956.00" y="1322.35" width="236.70" height="2.70" fill="#231f20" />
<text transform="translate(1025.9,1189.6) rotate(-90)" x="0" y="0" font-size="30" text-anchor="end" fill="#231f20" textLength="45.5" lengthAdjust="spacingAndGlyphs">IgG</text>
<text transform="translate(1146.7,1191.0) rotate(-90)" x="0" y="0" font-size="30" text-anchor="end" fill="#231f20" textLength="118" lengthAdjust="spacingAndGlyphs">H3K56ac</text>
<text x="1077.4" y="1367.0" font-size="32.7" text-anchor="middle" font-style="italic" fill="#231f20" textLength="79.0" lengthAdjust="spacingAndGlyphs">ALG9</text>
</svg></body></html>
